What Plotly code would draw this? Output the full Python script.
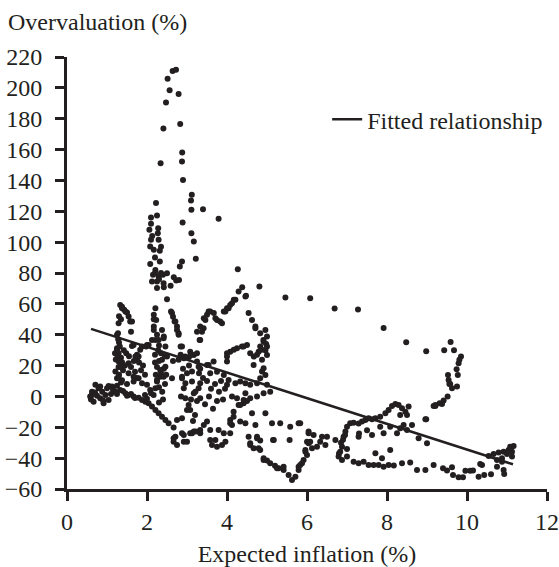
import plotly.graph_objects as go

# ---- data (x = expected inflation %, y = overvaluation %) ----
left_cluster = [
    (0.58, 0), (0.625, 3.1), (0.665, -3.4), (0.71, 7.5), (0.79, 5.3), (0.83, -1.2), (0.83, 6.4),
    (0.915, -4.4), (0.96, 1), (1.0, 5.3), (1.04, -2.3), (1.04, 6.8), (1.125, 6.4), (1.21, 3.1),
    (1.33, 4.2), (1.46, 2.1), (1.54, 1), (1.665, 0), (1.79, -0.8), (1.875, -2.3), (1.96, -3.4),
    (2.04, -4.4), (2.125, -6.6), (2.21, -8.8), (2.29, -10.9), (2.375, -13.1), (2.46, -15.2),
    (2.54, -17.4), (2.665, -20.2), (0.6, -2), (0.62, 1), (0.7, 2.5), (0.75, 0.5), (0.88, 3),
    (0.9, -2.5), (1.1, 1.5), (1.15, 4.5), (1.25, 1.5), (1.4, 3.5), (1.5, 0.5), (1.6, 1.5),
    (1.7, -1), (1.95, 1), (2.0, -1.5), (1.25, 11.8), (1.375, 10.5), (1.5, 8), (1.665, 9.6),
    (1.75, 12), (1.875, 8.6), (2.0, 7.5), (2.08, 4.2), (2.21, 5.3), (2.25, 9.6), (2.33, 12.8),
    (2.625, 11.8), (2.165, 1), (2.1, 2),
    (1.21, 16.1), (1.29, 12.8), (1.29, 19), (1.29, 22.6), (1.33, 19), (1.25, 31.3), (1.29, 28),
    (1.2, 28), (1.25, 30.2), (1.32, 32.3), (1.275, 41), (1.25, 39.9), (1.29, 47.5), (1.33, 59.3),
    (1.375, 57.2), (1.43, 56.1), (1.5, 54.4), (1.54, 51.8), (1.375, 58.2), (1.46, 55), (1.58, 48.5),
    (1.625, 48.5), (1.6, 42), (1.625, 32.7), (1.665, 33.4), (1.875, 32.3), (2.0, 33.4),
    (1.98, 32.3), (2.04, 33.4), (1.83, 30.2), (1.75, 27), (1.71, 25.8), (1.75, 23.6), (1.79, 25.8),
    (1.67, 23), (1.6, 19), (1.54, 21.5), (1.54, 15), (1.665, 12.8), (1.79, 11.8), (1.22, 24),
    (1.27, 26), (1.35, 25), (1.38, 22), (1.3, 35), (1.28, 37), (1.3, 14), (1.25, 7), (1.35, 9),
    (1.4, 17), (1.45, 20), (1.48, 28), (1.42, 30), (1.55, 26), (1.9, 20), (1.85, 17), (1.95, 14),
    (1.7, 16), (1.8, 22), (1.3, 52), (1.35, 50),
]

band_two = [
    (2.17, 45.3), (2.125, 36.6), (2.29, 36.6), (2.42, 38.8), (2.21, 36.6), (2.415, 37.7),
    (2.17, 43.1), (2.375, 43.1), (2.17, 50), (2.21, 57.2), (2.17, 52.9), (2.23, 49.6), (2.5, 63),
    (2.6, 55), (2.65, 51.7), (2.71, 48.5), (2.625, 54), (2.69, 48.5), (2.75, 45.3), (2.79, 41),
    (2.75, 43.1), (2.79, 39.9), (2.84, 32.3), (2.875, 32.3), (2.46, 32.3), (2.5, 25.8), (2.3, 23),
    (2.25, 19), (2.42, 18), (2.375, 23.7), (2.46, 19.3), (2.33, 17.2), (2.25, 10.7), (2.415, 12.8),
    (2.65, 23), (2.2, 27), (2.28, 30), (2.35, 28), (2.22, 14), (2.3, 6), (2.38, 3), (2.45, 8),
    (2.4, -2), (2.3, -4), (2.35, 15), (2.45, 26), (2.2, 22), (2.48, 14), (2.3, 33), (2.25, 40),
]

spike = [
    (2.15, 78.8), (2.29, 77.7), (2.4, 78.8), (2.5, 79.9), (2.25, 74.5), (2.415, 73.4), (2.25, 70.2),
    (2.125, 74.5), (2.67, 77.3), (2.73, 75.1), (2.59, 71.7), (2.42, 70.8), (2.8, 75.5), (2.21, 82),
    (2.08, 85.9), (2.32, 87.4), (2.82, 84.2), (2.875, 87.4), (2.17, 95), (2.32, 94.4), (2.08, 97.1),
    (2.1, 101.5), (2.29, 101.5), (2.27, 105.8), (2.06, 108), (2.1, 111.9), (2.25, 117.3),
    (2.225, 125.3), (2.89, 112.7), (3.22, 89.2), (3.11, 105.8), (3.17, 100.4), (3.11, 121),
    (3.1, 127), (3.4, 121.4), (3.79, 115.1), (3.12, 130.7), (2.9, 140.2), (2.88, 158.1),
    (2.875, 152.3), (2.34, 151.2), (2.41, 173.7), (2.83, 176.5), (2.475, 190.5), (2.565, 198.5),
    (2.79, 196), (2.515, 205.9), (2.64, 210.9), (2.725, 211.7), (2.2, 80), (2.35, 80), (2.3, 76),
    (2.2, 90), (2.13, 104), (2.35, 97), (2.1, 116), (2.28, 109),
]

band_three = [
    (2.875, 11.8), (2.92, 5.3), (2.96, -1.2), (3.04, -5.5), (3.08, -8.8), (3.0, -8.8),
    (2.875, -14.1), (2.75, -15.2), (3.125, 9.6), (3.17, 2.1), (3.29, 5.3), (3.33, -1.2),
    (3.42, -18.5), (3.33, -21.7), (2.71, -26.1), (2.665, -29.3), (2.75, -31.5), (2.92, -29.3),
    (2.92, -25), (3.08, -23.9), (3.17, -22.8), (2.665, -27.1), (3.0, -29.3), (2.875, -23.9),
    (3.125, -23.9), (3.29, -22.8), (2.875, 12.8), (2.96, 8.6), (2.79, 23.7), (2.92, 24.8),
    (3.05, 25.5), (3.17, 26.9), (3.29, 19.3), (3.125, 16.1), (3.08, 29), (2.95, 25.8), (2.84, 27),
    (3.1, 27), (3.25, 28), (3.33, 18), (3.25, 22.6), (3.54, 20.4), (3.665, 22.6), (3.5, 20.4),
    (3.33, 8.6), (3.21, 3.1), (3.25, -3), (3.2, -12), (3.15, -16), (2.9, 18), (3.0, 15),
    (3.05, 20), (2.85, 0), (3.1, -2),
]

upper_loop = [
    (3.42, 50.7), (3.54, 55), (3.67, 54), (3.75, 49.6), (3.875, 47.5), (3.33, 45.3), (3.25, 42),
    (3.33, 36.6), (3.58, 55), (3.5, 52.9), (3.46, 49.6), (3.71, 50.7), (3.83, 48.5),
    (3.415, 44.2), (3.375, 42), (3.315, 36.6), (3.92, 55), (4.0, 57.2), (4.08, 59.3),
    (4.17, 62.6), (4.29, 68), (4.27, 82.5), (4.38, 70.8), (4.81, 71.2), (4.475, 65.2), (4.21, 62.6),
    (4.125, 60.4), (4.04, 57.2), (3.96, 55), (4.46, 64.7), (4.54, 54), (4.625, 49.6), (4.71, 45.3),
    (4.96, 43.1), (4.91, 36.6), (4.98, 34), (4.83, 32.3), (4.96, 30), (4.75, 27), (4.67, 25.8),
    (4.5, 33.4), (4.375, 32.3), (4.25, 31.3), (4.17, 30.2), (4.08, 29), (4.0, 28), (4.0, 22.6),
    (4.0, 25.8), (4.415, 32.3), (4.58, 28), (4.665, 20.4), (4.71, 44.2), (4.83, 41),
    (5.0, 38.8), (4.915, 35.5), (5.0, 32.3), (4.875, 30.2), (4.79, 29), (5.0, 26.9),
    (4.875, 23.7), (4.915, 18.3), (4.96, 13.9), (4.875, 16.1), (4.83, 11.8),
]

high_path = [
    (5.46, 64.1), (6.08, 63.7), (6.69, 57), (7.275, 56.3), (7.915, 44.4), (8.48, 35.1),
    (8.98, 29.3), (9.43, 30), (9.59, 35.3), (9.675, 30), (9.85, 25.8), (9.81, 23.7), (9.79, 21.5),
    (9.74, 17.6), (9.77, 13.9), (9.525, 13.9), (9.54, 10.7), (9.56, 8), (9.625, 5.3), (9.75, 6.4),
    (9.515, 0), (9.375, -4.9), (9.21, -6.2), (8.98, -14.8), (9.165, -6.2), (9.315, -4.4),
    (9.415, -2.7), (9.58, 8.1),
]

middle_low = [
    (3.58, 15), (3.75, 16), (3.92, 13.9), (4.04, 10.7), (4.0, 7.5), (4.21, 8.6), (4.33, 9.6),
    (4.46, 8.6), (4.58, 7.5), (4.75, 8.6), (5.0, 7.5), (5.08, 3.1), (4.915, 2.1), (4.75, 0),
    (4.58, -1.2), (4.5, -3), (4.415, -4.4), (4.29, -5.5), (4.25, -1.2), (4.125, 0), (4.165, -9.9),
    (4.625, -10.9), (4.96, -10.9), (4.08, -15.2), (4.125, -18.5), (4.33, -16.3), (4.46, -17.4),
    (4.71, -18.5), (5.125, -17.4), (5.33, -17.4), (5.58, -19.6), (5.79, -17.4), (6.04, -22.8),
    (5.17, -28.2), (5.565, -28.2), (6.0, -29.3), (5.96, -34.7), (4.75, -26.1), (4.83, -28.5),
    (4.58, -31.5), (4.665, -33.6), (4.83, -34.7), (4.915, -41.2), (5.08, -43.3), (5.2, -45),
    (5.29, -46.6), (5.415, -47.7), (5.54, -50.9), (5.625, -54.1), (5.71, -52), (5.79, -47.7),
    (5.83, -44.4), (5.915, -41.2), (6.0, -37.9), (3.5, -16.3), (3.58, -21.7), (3.71, -28.2),
    (3.58, -28.2), (3.625, -31.5), (3.75, -32.6), (3.875, -31.5), (3.96, -29.3), (3.79, -21.7),
    (3.92, -23.9), (4.08, -23.9), (4.08, -17.4), (4.165, -13.1), (4.33, -5.5), (4.415, -2.3),
    (4.46, 2.1), (4.54, -26.1), (4.58, -30.4), (4.75, -27.1), (4.79, -33.6), (4.915, -40.1),
    (5.0, -41.5), (5.25, -46.6), (5.15, -28.2), (3.33, -23.9), (3.21, -22.8),
    (3.4, 12), (3.5, 10), (3.6, 5), (3.7, 8), (3.8, 3), (3.85, 10), (3.9, -2), (3.95, 5),
    (3.55, 0), (3.45, -5), (3.65, -8), (3.75, -3), (3.3, 15),
]

right_low = [
    (5.83, -17.4), (6.04, -30.4), (5.96, -35.8), (5.875, -43.3), (6.165, -25), (6.33, -29.3),
    (6.25, -32.6), (6.125, -33.6), (6.5, -26.1), (6.46, -31.5), (6.71, -28.2), (6.915, -26.1),
    (6.875, -32.6), (6.83, -35.8), (6.79, -39), (6.875, -41.2), (7.0, -39), (6.96, -22.8),
    (7.0, -19.6), (7.08, -17.4), (7.165, -17), (7.29, -17.5), (7.375, -16.3), (7.46, -15.2),
    (7.54, -14.1), (7.625, -14.8), (7.71, -14.1), (7.83, -13.1), (7.96, -10.9), (8.04, -8.8),
    (8.125, -6.2), (8.21, -4.9), (8.29, -5.5), (8.375, -7.7), (8.46, -9.9), (8.54, -6.6),
    (8.5, -12), (8.33, -12), (8.415, -18.5), (8.33, -20.6), (8.25, -23.9), (8.5, -21.7),
    (8.625, -18.5), (8.79, -27.1), (9.0, -30.4), (8.96, -14.8), (9.21, -5.5), (8.08, -19.6),
    (7.83, -19.6), (7.915, -23.9), (7.625, -25), (7.29, -26.1), (7.71, -36.8), (8.08, -34.7),
    (7.875, -40.1), (7.165, -42.3), (7.29, -43.3), (7.415, -42.3), (7.54, -44.4), (7.665, -44.4),
    (7.79, -44.4), (7.915, -45.5), (8.04, -44.4), (8.17, -44.8), (8.375, -43.3), (8.58, -42.9),
    (8.75, -47.7), (8.96, -47.7), (9.165, -44.4), (9.4, -46.6), (9.5, -48), (9.625, -45.9),
    (9.65, -50.9), (9.79, -52.4), (9.9, -52.4), (9.96, -48.1), (10.08, -48.1), (10.15, -48),
    (10.29, -52), (10.375, -44.4), (10.43, -50.9), (10.6, -50.5), (10.75, -45.5), (10.875, -42.3),
    (10.915, -47.7), (10.93, -50.3), (11.08, -32.6), (11.165, -32.1), (11.04, -34.7),
    (10.915, -35.8), (10.79, -36.4), (10.665, -37.3), (10.54, -38.6), (11.0, -37.3),
    (11.125, -35.8), (10.875, -40.1), (10.75, -41.2), (10.33, -43.8), (11.125, -39), (11.1, -33.5),
    (6.85, -30), (6.9, -28), (6.95, -25), (6.8, -37), (5.415, -45.5), (5.79, -45.5), (6.08, -29.3),
    (6.04, -23.9), (6.375, -26.1), (7.3, -24), (7.5, -22), (7.0, -34),
]

fit_x = [0.6, 11.15]
fit_y = [43.8, -44.0]

x_ticks = [0, 2, 4, 6, 8, 10, 12]
y_ticks = list(range(-60, 221, 20))

INK = "#231f20"
FONT = "Liberation Serif"
FS = 24

groups = [left_cluster, band_two, spike, band_three, upper_loop, high_path, middle_low, right_low]
pts = [p for g in groups for p in g]
xs = [p[0] for p in pts]
ys = [p[1] for p in pts]

fig = go.Figure()
fig.add_trace(go.Scatter(x=xs, y=ys, mode="markers",
                         marker=dict(size=6, color=INK, line=dict(width=0)),
                         showlegend=False, name="Observations"))
fig.add_trace(go.Scatter(x=fit_x, y=fit_y, mode="lines",
                         line=dict(color=INK, width=2.5),
                         name="Fitted relationship", showlegend=True))

axis_common = dict(showline=True, linewidth=3, linecolor=INK, ticks="outside",
                   ticklen=9, tickwidth=3, tickcolor=INK, showgrid=False, zeroline=False,
                   automargin=False,
                   tickfont=dict(family=FONT, size=FS, color=INK))

fig.update_layout(
    width=559, height=567,
    margin=dict(l=67, r=12, t=57, b=78, autoexpand=False),
    paper_bgcolor="white", plot_bgcolor="white",
    font=dict(family=FONT, size=FS, color=INK),
    xaxis=dict(range=[0, 12], tickvals=x_ticks, ticklabelstandoff=0,
               title=dict(text="Expected inflation (%)", standoff=14,
                          font=dict(family=FONT, size=FS, color=INK)),
               **axis_common),
    yaxis=dict(range=[-60, 220], tickvals=y_ticks, ticklabelstandoff=8, **axis_common),
    legend=dict(x=0.542, y=0.855, xanchor="left", yanchor="middle",
                bgcolor="rgba(0,0,0,0)", font=dict(family=FONT, size=FS, color=INK),
                itemwidth=30),
    annotations=[dict(text="Overvaluation (%)", xref="paper", yref="paper",
                      x=-0.127, y=1.081, xanchor="left", yanchor="middle",
                      showarrow=False, font=dict(family=FONT, size=FS, color=INK))],
)

# remove the default page margin so the figure sits at the window's top-left corner
fig.write_html("out.html", config={"displayModeBar": False},
               post_script="document.body.style.margin='0';document.body.style.overflow='hidden';")
